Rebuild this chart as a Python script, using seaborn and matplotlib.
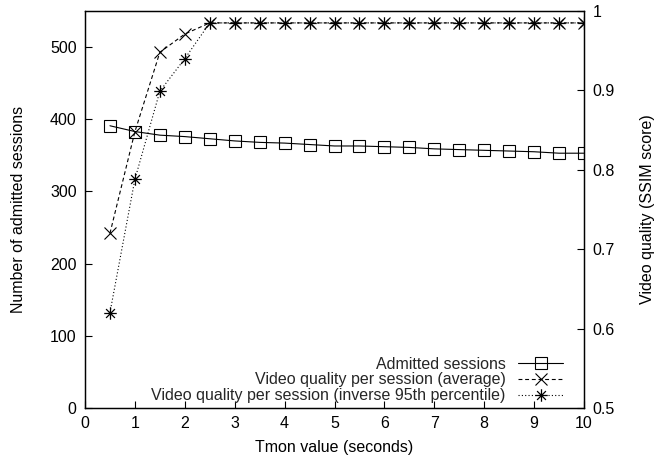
import numpy as np
import pandas as pd
import matplotlib
matplotlib.use("Agg")
import matplotlib.pyplot as plt
import seaborn as sns
from matplotlib.path import Path

tmon = [0.5, 1.0, 1.5, 2.0, 2.5, 3.0, 3.5, 4.0, 4.5, 5.0,
        5.5, 6.0, 6.5, 7.0, 7.5, 8.0, 8.5, 9.0, 9.5, 10.0]
admitted = [391, 383, 378, 376, 373, 370, 368, 367, 365, 363,
            363, 362, 361, 359, 358, 357, 356, 355, 353, 353]
quality_avg = [0.72, 0.848, 0.948, 0.971, 0.985, 0.985, 0.985, 0.985, 0.985, 0.985,
               0.985, 0.985, 0.985, 0.985, 0.985, 0.985, 0.985, 0.985, 0.985, 0.985]
quality_p95 = [0.62, 0.788, 0.899, 0.94, 0.985, 0.985, 0.985, 0.985, 0.985, 0.985,
               0.985, 0.985, 0.985, 0.985, 0.985, 0.985, 0.985, 0.985, 0.985, 0.985]

labels = ["Admitted sessions",
          "Video quality per session (average)",
          "Video quality per session (inverse 95th percentile)"]

sns.set_theme(style="white")
plt.rcParams['font.family'] = ['Liberation Sans', 'DejaVu Sans']
FS = 11.5

# asterisk marker (plus + cross)
d = 0.7071
star = Path([(-1, 0), (1, 0), (0, -1), (0, 1), (-d, -d), (d, d), (-d, d), (d, -d)],
            [Path.MOVETO, Path.LINETO] * 4)

df = pd.DataFrame({"tmon": tmon, "admitted": admitted,
                   "avg": quality_avg, "p95": quality_p95})

fig = plt.figure(figsize=(6.59, 4.62), dpi=100)
ax = fig.add_axes([85/659, 54/462, 499/659, 397/462])
ax2 = ax.twinx()

lw = 0.8
sns.lineplot(data=df, x="tmon", y="admitted", ax=ax, color="black", lw=lw,
             marker="s", markersize=8, markerfacecolor="none",
             markeredgecolor="black", markeredgewidth=0.8, label=labels[0], legend=False)
sns.lineplot(data=df, x="tmon", y="avg", ax=ax2, color="black", lw=lw,
             linestyle=(0, (3.5, 2.5)), marker="x", markersize=8,
             markeredgecolor="black", markerfacecolor="none",
             markeredgewidth=0.8, label=labels[1], legend=False)
sns.lineplot(data=df, x="tmon", y="p95", ax=ax2, color="black", lw=lw,
             linestyle=(0, (1, 2)), marker=star, markersize=9,
             markerfacecolor="none", markeredgecolor="black",
             markeredgewidth=0.9, label=labels[2], legend=False)

ax.set_xlim(0, 10)
ax.set_ylim(0, 550)
ax2.set_ylim(0.5, 1.0)
ax.set_xticks(range(0, 11))
ax.set_yticks([0, 100, 200, 300, 400, 500])
ax2.set_yticks([0.5, 0.6, 0.7, 0.8, 0.9, 1.0])
ax2.set_yticklabels(["0.5", "0.6", "0.7", "0.8", "0.9", "1"])

for a in (ax, ax2):
    for s in a.spines.values():
        s.set_color("black")
        s.set_linewidth(0.9)
ax.tick_params(axis="both", direction="in", length=5, width=0.8, colors="black",
               labelsize=FS, pad=6)
ax.tick_params(axis="y", left=True, right=False)
ax.tick_params(axis="x", bottom=True, top=False)
ax2.tick_params(axis="y", direction="in", length=5, width=0.8, colors="black",
                labelsize=FS, pad=6, right=True, left=False)

ax.set_xlabel("Tmon value (seconds)", fontsize=FS, color="black", labelpad=6)
ax.set_ylabel("Number of admitted sessions", fontsize=FS, color="black", labelpad=17)
ax2.set_ylabel("Video quality (SSIM score)", fontsize=FS, color="black", labelpad=18)
ax.grid(False)
ax2.grid(False)

h1, l1 = ax.get_legend_handles_labels()
h2, l2 = ax2.get_legend_handles_labels()
leg = ax2.legend(h1 + h2, l1 + l2, loc="lower right", frameon=False, markerfirst=False,
                 fontsize=FS, handlelength=2.8, handletextpad=0.8, labelspacing=0.05,
                 borderaxespad=0.0, borderpad=0.0, bbox_to_anchor=(0.958, 0.012))

fig.savefig("out.png", dpi=100)
